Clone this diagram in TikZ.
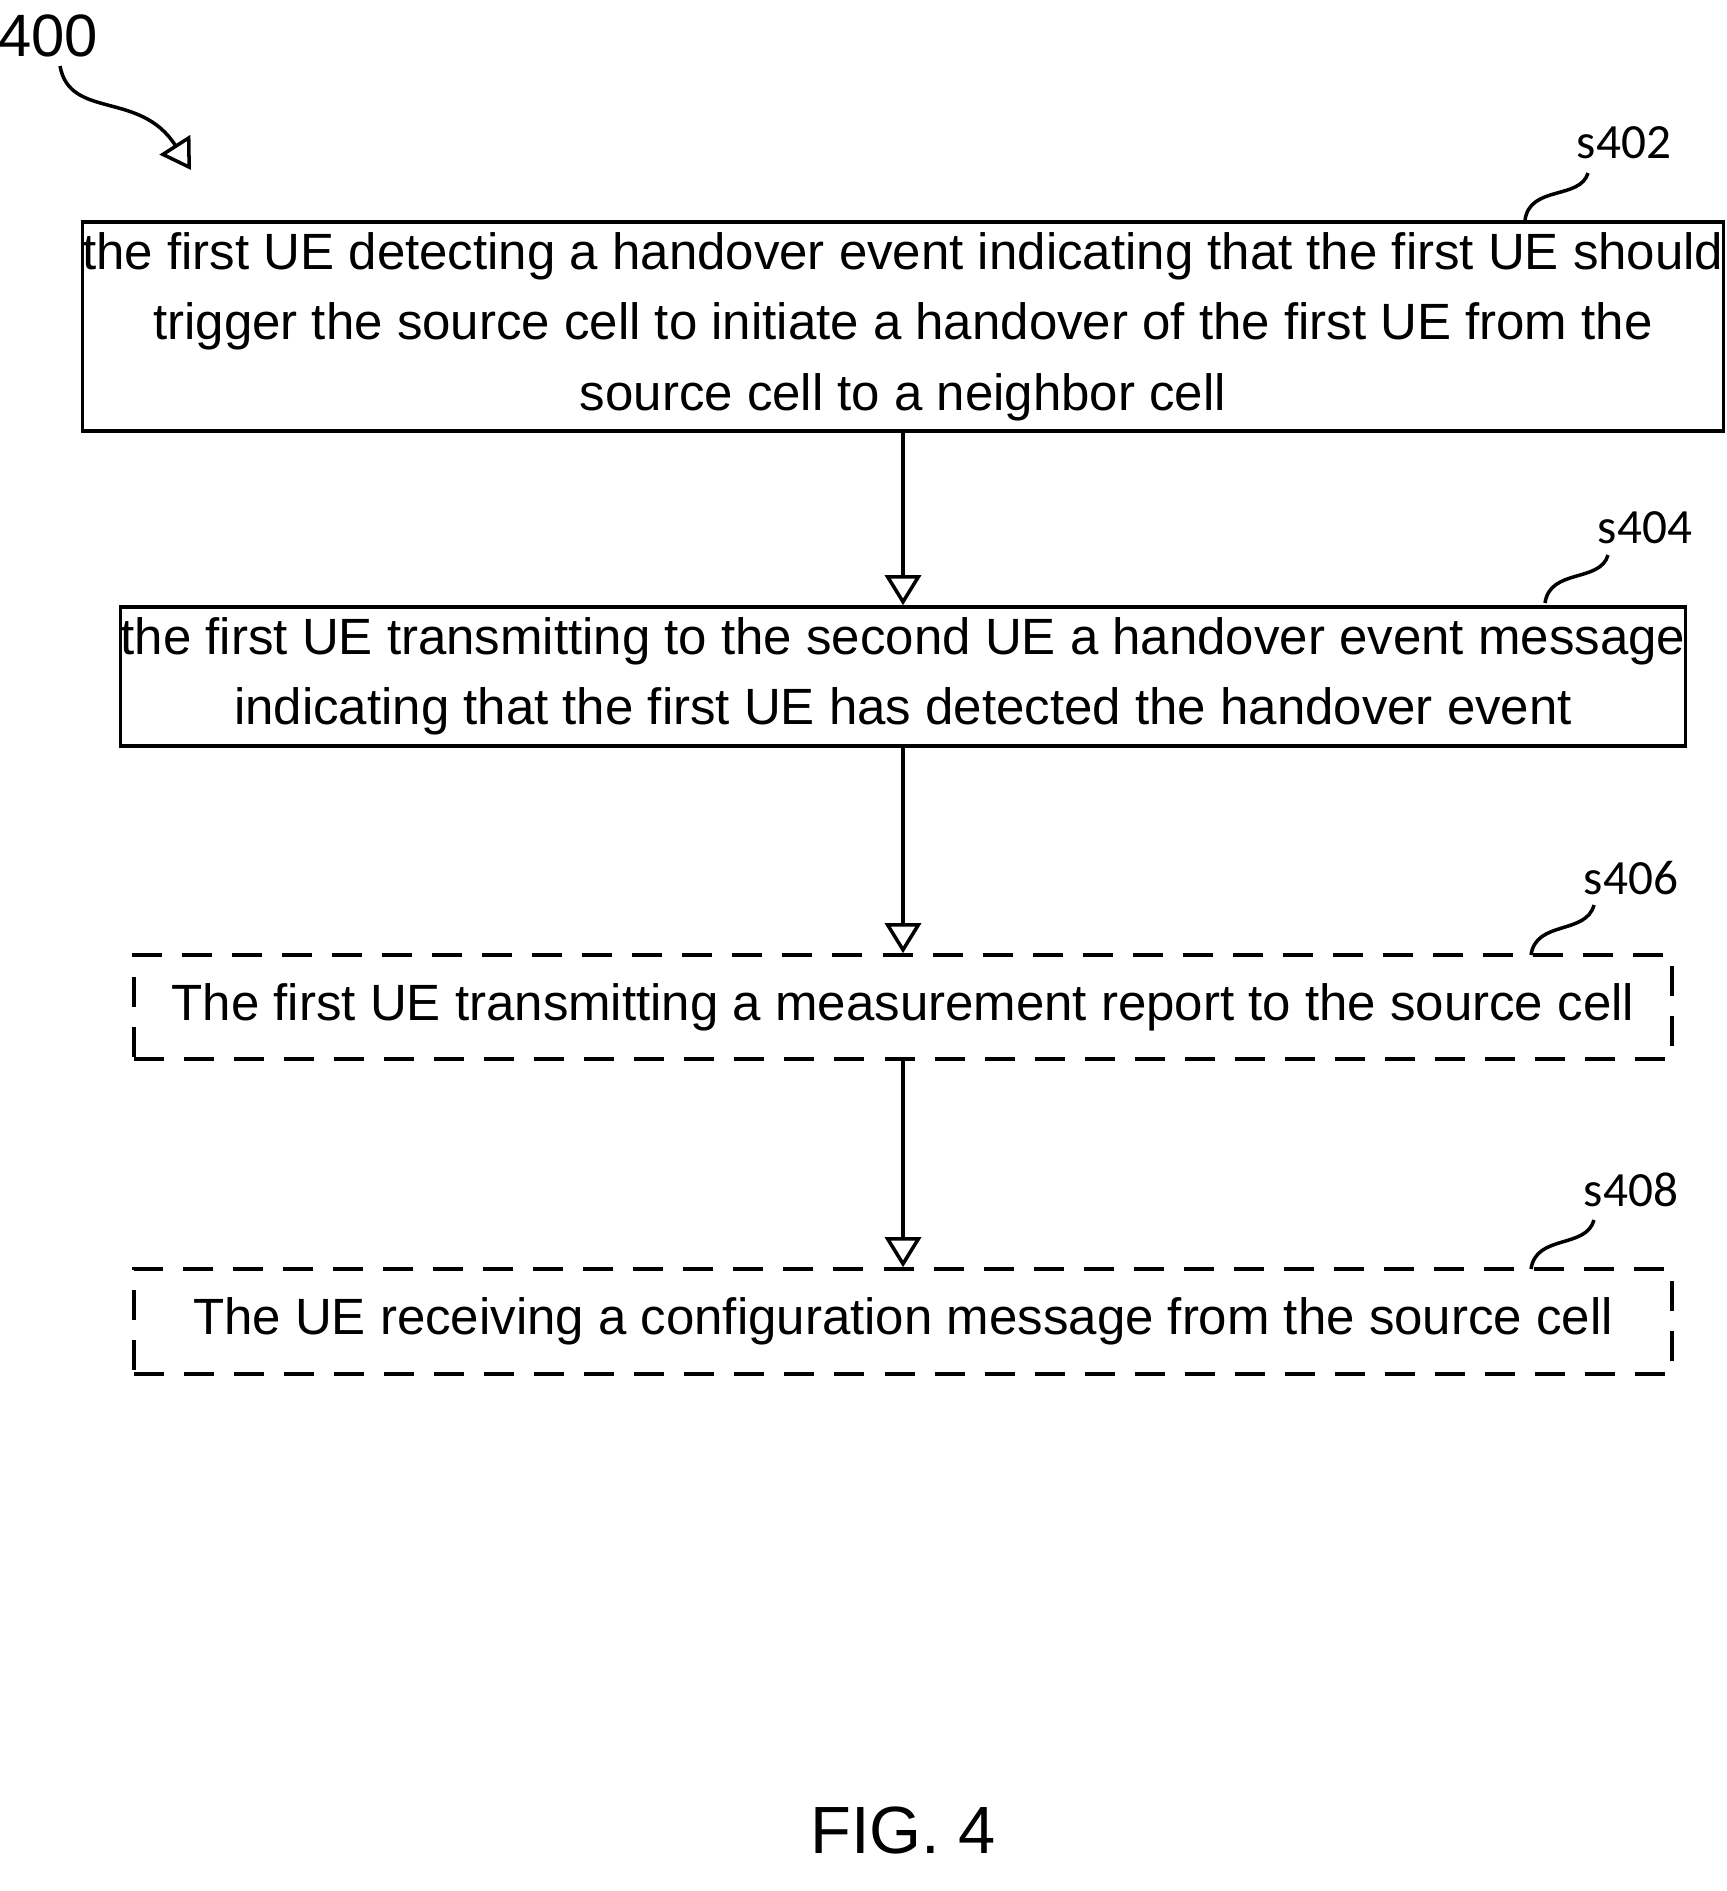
\documentclass[tikz,border=0pt]{standalone}
\usepackage{fontspec}
\setmainfont{Liberation Sans}
\newfontfamily\labfont{Carlito}
\usetikzlibrary{arrows.meta}
\tikzset{
  stepbox/.style={draw,shape=rectangle,line width=1pt,align=center,font=\fontsize{14.5}{20}\selectfont,minimum width=15.37cm,inner sep=0pt},
  optbox/.style={stepbox,dash pattern=on 0.3cm off 0.2cm},
  flow/.style={-{Triangle[open,length=0.3cm,width=0.36cm]},line width=1pt},
  lab/.style={font=\labfont\fontsize{14}{16}\selectfont},
  tick/.style={line width=1pt}
}
\begin{document}
\begin{tikzpicture}[x=0.01cm,y=-0.01cm]
            \useasboundingbox (0,0) rectangle (1726,1891);
            \node[stepbox,minimum height=2.09cm](n1)at(903,326.5){the first UE detecting a handover event indicating that the first UE should\\trigger the source cell to initiate a handover of the first UE from the\\source cell to a neighbor cell};
            \node[stepbox,minimum height=1.39cm](n2)at(903,676.5){the first UE transmitting to the second UE a handover event message\\indicating that the first UE has detected the handover event};
            \node[optbox,minimum height=1.04cm](n3)at(903,1007){The first UE transmitting a measurement report to the source cell};
            \node[optbox,minimum height=1.05cm](n4)at(903,1321.5){The UE receiving a configuration message from the source cell};

            % reference numerals
            \node[font=\fontsize{17}{20}\selectfont](n0)at(48,36){400};
            \node[lab](l1)at(1624,143){s402};
            \node[lab](l2)at(1645,528){s404};
            \node[lab](l3)at(1631,878){s406};
            \node[lab](l4)at(1631,1190){s408};
            \node[font=\fontsize{19}{22}\selectfont](fig)at(903,1830){FIG. 4};

            \draw[tick](1525,220)..controls(1530,185)and(1580,200)..(1588,173);
            \draw[tick](1545,603)..controls(1550,568)and(1600,583)..(1608,555);
            \draw[tick](1531,955)..controls(1536,920)and(1586,935)..(1594,905);
            \draw[tick](1531,1269)..controls(1536,1234)and(1586,1249)..(1594,1220);
            \draw[flow](60,66)..controls(70,120)and(140,90)..(191,170);

            \draw[flow](n1)to[](n2);
            \draw[flow](n2)to[](n3);
            \draw[flow](n3)to[](n4);
\end{tikzpicture}
\end{document}
